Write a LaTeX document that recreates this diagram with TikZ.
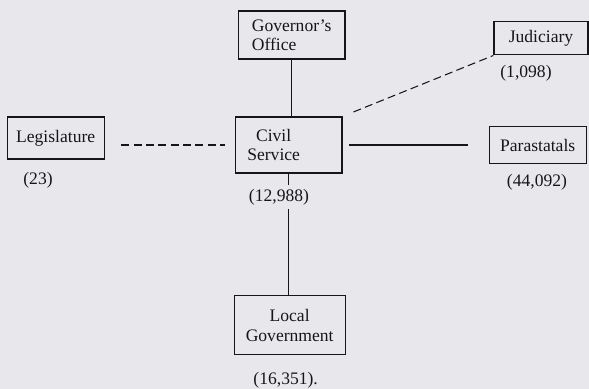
\documentclass[tikz,border=0pt]{standalone}
\usepackage{fontspec}
\setmainfont{Liberation Serif}
\usepackage{tikz}
\usetikzlibrary{positioning}
\definecolor{paper}{RGB}{232,232,236}
\definecolor{ink}{RGB}{22,22,24}

\begin{document}
\begin{tikzpicture}[
    every node/.style={font=\fontsize{15}{16.5}\selectfont, text=ink},
    unit/.style={draw=ink, line width=1.1pt, inner sep=2pt},
    link/.style={draw=ink, line width=0.8pt},
    loose/.style={link, line width=0.9pt, dash pattern=on 0.24cm off 0.13cm}
]
\fill[paper] (0, 0) rectangle (17.67, 11.67);
\useasboundingbox (0, 0) rectangle (17.67, 11.67);

\node (gov) at (8.75, 10.62) [unit, align=left, minimum width=3.2cm, minimum height=1.44cm] {Governor's\\Office};
\node (jud) at (16.23, 10.52) [unit, minimum width=2.82cm, minimum height=0.99cm] {Judiciary};
\node (leg) at (1.67, 7.53) [unit, minimum width=2.91cm, minimum height=1.26cm] {Legislature};
\node (civ) at (8.66, 7.32) [unit, align=center, minimum width=3.2cm, minimum height=1.68cm] {\hspace*{-0.9cm}Civil\\\hspace*{-0.9cm}Service};
\node (par) at (16.13, 7.31) [unit, minimum width=2.91cm, minimum height=1.11cm] {Parastatals};
\node (loc) at (8.69, 1.91) [unit, align=center, minimum width=3.33cm, minimum height=1.77cm] {Local\\Government};

% staff numbers
\node (njud) at (15.78, 9.48) {(1,098)};
\node (nleg) at (1.14, 6.27) {(23)};
\node (nciv) at (8.37, 5.76) {(12,988)};
\node (npar) at (16.11, 6.21) {(44,092)};
\node (nloc) at (8.57, 0.27) {(16,351).};

\draw[link] (gov.south) -- (gov.south |- civ.north);
\draw[link] (civ.south) -- (civ.south |- nciv.north);
\draw[link] (civ.south |- nciv.south) -- (civ.south |- loc.north);
\draw[loose, shorten <=0.5cm, shorten >=0.3cm] (leg.east |- civ.west) -- (civ.west);
\draw[link, line width=1pt, shorten <=0.2cm, shorten >=0.63cm] (civ.east) -- (par.west |- civ.east);
\draw[loose, shorten <=0.35cm] (civ.north east) -- (jud.south west);

\end{tikzpicture}
\end{document}
